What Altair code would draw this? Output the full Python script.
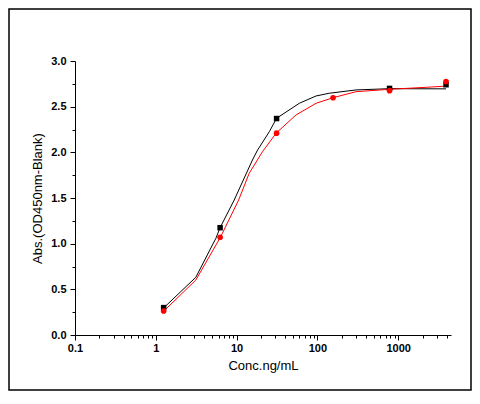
import altair as alt
import pandas as pd

# measured points (conc ng/mL, Abs)
black_x = [1.25, 6.25, 31.25, 781.25, 3906.25]
black_y = [0.30, 1.175, 2.37, 2.70, 2.74]
red_x = [1.25, 6.25, 31.25, 156.25, 781.25, 3906.25]
red_y = [0.263, 1.07, 2.21, 2.598, 2.675, 2.775]

# fitted curves
black_cx = [1.26, 3.13, 5.54, 6.25, 9.34, 15.7, 18.2, 25.4, 31.25, 59.7, 96.2, 140, 300, 781, 3906]
black_cy = [0.299, 0.632, 1.059, 1.175, 1.478, 1.916, 2.026, 2.226, 2.373, 2.537, 2.617, 2.647, 2.683, 2.697, 2.695]
red_cx = [1.26, 3.13, 6.3, 10.6, 14.3, 20.9, 31, 54.3, 96.2, 156, 300, 781, 2216, 3906]
red_cy = [0.263, 0.602, 1.07, 1.478, 1.770, 2.007, 2.212, 2.409, 2.537, 2.598, 2.664, 2.69, 2.712, 2.725]

x_ticks = [0.1, 0.2, 0.3, 0.4, 0.5, 0.6, 0.7, 0.8, 0.9,
           1, 2, 3, 4, 5, 6, 7, 8, 9,
           10, 20, 30, 40, 50, 60, 70, 80, 90,
           100, 200, 300, 400, 500, 600, 700, 800, 900,
           1000, 2000, 3000, 4000]
x_major = [0.1, 1, 10, 100, 1000]
y_ticks = [0, 0.25, 0.5, 0.75, 1.0, 1.25, 1.5, 1.75, 2.0, 2.25, 2.5, 2.75, 3.0]

FONT = "Liberation Sans"
major_test = "indexof(" + str(x_major) + ", datum.value) >= 0"

x_axis = alt.Axis(
    values=x_ticks, title="Conc.ng/mL", grid=False,
    labelExpr=major_test + " ? '' + datum.value : ''",
    labelOverlap=False, labelFlush=False,
    tickSize={"condition": {"test": major_test, "value": 5}, "value": 3},
    labelFont=FONT, labelFontSize=11, labelFontWeight="bold", labelColor="black",
    labelPadding=2, titleFont=FONT, titleFontSize=13, titleFontWeight="normal",
    titleColor="black", titlePadding=6, domainColor="black", tickColor="black",
)
y_axis = alt.Axis(
    values=y_ticks, title="Abs.(OD450nm-Blank)", grid=False, format=".1f",
    labelExpr="datum.value % 0.5 == 0 ? format(datum.value, '.1f') : ''",
    labelOverlap=False, labelFlush=False,
    tickSize={"condition": {"test": "datum.value % 0.5 == 0", "value": 5}, "value": 3},
    labelFont=FONT, labelFontSize=11, labelFontWeight="bold", labelColor="black",
    labelPadding=4, titleFont=FONT, titleFontSize=13, titleFontWeight="normal",
    titleColor="black", titlePadding=6, domainColor="black", tickColor="black",
)

xs = alt.Scale(type="log", domain=[0.1, 4500], nice=False)
ys = alt.Scale(domain=[0, 3], nice=False)

def enc(ch):
    return ch.encode(
        x=alt.X("x:Q", scale=xs, axis=x_axis),
        y=alt.Y("y:Q", scale=ys, axis=y_axis),
    )

black_curve = enc(alt.Chart(pd.DataFrame({"x": black_cx, "y": black_cy})).mark_line(color="black", strokeWidth=1))
red_curve = enc(alt.Chart(pd.DataFrame({"x": red_cx, "y": red_cy})).mark_line(color="#ff0000", strokeWidth=1))
black_pts = enc(alt.Chart(pd.DataFrame({"x": black_x, "y": black_y})).mark_point(shape="square", filled=True, color="black", size=30, opacity=1))
red_pts = enc(alt.Chart(pd.DataFrame({"x": red_x, "y": red_y})).mark_point(shape="circle", filled=True, color="#ff0000", size=32, opacity=1))

frame = alt.Chart(pd.DataFrame({"a": [0]})).mark_rect(
    filled=False, stroke="black", strokeWidth=1.5, clip=False
).encode(
    x=alt.value(-66), x2=alt.value(396), y=alt.value(-52), y2=alt.value(329)
)

chart = alt.layer(black_curve, red_curve, black_pts, red_pts, frame).properties(
    width=376, height=274,
    autosize=alt.AutoSizeParams(type="none"),
    padding={"left": 67, "top": 53, "right": 21, "bottom": 57},
).configure_view(stroke=None)

chart.save("out.html", embed_options={"renderer": "svg", "actions": False})
